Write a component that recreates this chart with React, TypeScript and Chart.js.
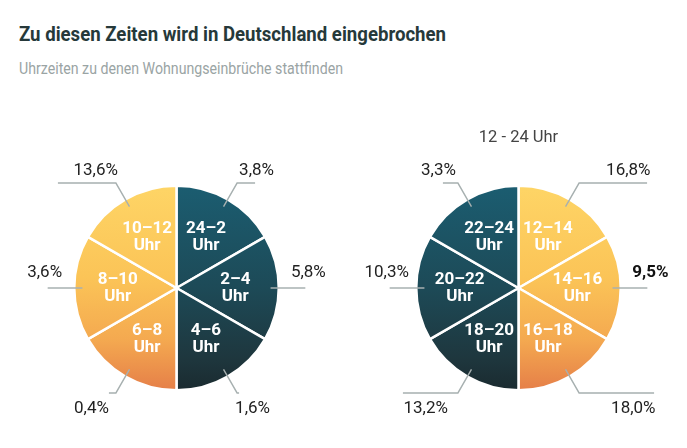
import React, { useEffect, useLayoutEffect, useRef } from 'react';
import { Chart, registerables } from 'chart.js';

Chart.register(...registerables);

// ---------- data ----------
const leftSlots = ['24–2', '2–4', '4–6', '6–8', '8–10', '10–12'];
const leftShares = [3.8, 5.8, 1.6, 0.4, 3.6, 13.6];
const rightSlots = ['12–14', '14–16', '16–18', '18–20', '20–22', '22–24'];
const rightShares = [16.8, 9.5, 18.0, 13.2, 10.3, 3.3];
const slotHours = [2, 2, 2, 2, 2, 2];
const emphasized = ['14–16'];
const rightHeading = '12 - 24 Uhr';
const titleText = 'Zu diesen Zeiten wird in Deutschland eingebrochen';
const subtitleText = 'Uhrzeiten zu denen Wohnungseinbrüche stattfinden';

// ---------- layout / style ----------
const FONT = 'Roboto, "Noto Sans", sans-serif';
type Leader = { tail: number; gap: number };
const leftLeaders: Leader[] = [
  { tail: 18, gap: 2 },
  { tail: 0, gap: 0 },
  { tail: 2, gap: -2 },
  { tail: 7, gap: 7 },
  { tail: 0, gap: 0 },
  { tail: 58, gap: -2 },
];
const rightLeaders: Leader[] = [
  { tail: 68, gap: 27 },
  { tail: 0, gap: 0 },
  { tail: 75, gap: 32 },
  { tail: 55, gap: 10 },
  { tail: 0, gap: 0 },
  { tail: 15, gap: 2 },
];

const isWarm = (slot: string) => {
  const h = parseInt(slot, 10);
  return h >= 6 && h < 18;
};
const fmt = (v: number) => v.toFixed(1).replace('.', ',') + '%';

function makeLabelPlugin(slots: string[], shares: number[], leaders: Leader[], heading?: string) {
  return {
    id: 'sliceLabels',
    afterDatasetsDraw(chart: any) {
      const ctx = chart.ctx as CanvasRenderingContext2D;
      const meta = chart.getDatasetMeta(0);
      ctx.save();
      meta.data.forEach((arc: any, i: number) => {
        const p = arc.getProps(['x', 'y', 'startAngle', 'endAngle', 'outerRadius'], true);
        const r = p.outerRadius;
        const mid = (p.startAngle + p.endAngle) / 2;
        const dx = Math.cos(mid);
        const dy = Math.sin(mid);
        // inner label
        ctx.fillStyle = '#ffffff';
        ctx.font = `700 17px ${FONT}`;
        ctx.textAlign = 'center';
        ctx.textBaseline = 'middle';
        const lx = p.x + dx * r * 0.575;
        const ly = p.y + dy * r * 0.575;
        ctx.fillText(slots[i], lx, ly - 8);
        ctx.fillText('Uhr', lx, ly + 9);
        // leader line
        ctx.strokeStyle = '#a7b0b0';
        ctx.lineWidth = 1.4;
        const x0 = p.x + dx * r * 0.92;
        const y0 = p.y + dy * r * 0.92;
        const side = dx >= 0 ? 1 : -1;
        const bold = emphasized.includes(slots[i]);
        ctx.font = `${bold ? 700 : 400} 17px ${FONT}`;
        ctx.fillStyle = bold ? '#111111' : '#222222';
        ctx.textBaseline = 'middle';
        if (Math.abs(dy) < 0.05) {
          const x1 = p.x + dx * r * 1.26;
          ctx.beginPath();
          ctx.moveTo(x0, y0);
          ctx.lineTo(x1, y0);
          ctx.stroke();
          ctx.textAlign = 'center';
          ctx.fillText(fmt(shares[i]), x1 + side * 3, y0 - 15);
        } else {
          const ex = p.x + dx * r * 1.185;
          const ey = p.y + dy * r * 1.185;
          const L = leaders[i];
          ctx.beginPath();
          ctx.moveTo(x0, y0);
          ctx.lineTo(ex, ey);
          ctx.lineTo(ex + side * L.tail, ey);
          ctx.stroke();
          ctx.textAlign = side > 0 ? 'left' : 'right';
          ctx.fillText(fmt(shares[i]), ex + side * L.gap, ey + (dy < 0 ? -12 : 16));
        }
      });
      if (heading) {
        const a = meta.data[0];
        ctx.font = `400 16.5px ${FONT}`;
        ctx.fillStyle = '#444444';
        ctx.textAlign = 'center';
        ctx.textBaseline = 'middle';
        ctx.fillText(heading, a.x, 138);
      }
      ctx.restore();
    },
  };
}

function PieCanvas(props: {
  slots: string[];
  shares: number[];
  leaders: Leader[];
  left: number;
  padding: { left: number; right: number; top: number; bottom: number };
  heading?: string;
}) {
  const ref = useRef<HTMLCanvasElement>(null);
  useEffect(() => {
    const { slots, shares, leaders, padding, heading } = props;
    const chart = new Chart(ref.current!, {
      type: 'pie',
      data: {
        labels: slots,
        datasets: [
          {
            data: slotHours,
            backgroundColor: (c: any) => {
              const area = c.chart.chartArea;
              if (!area) return '#1d4a58';
              const g = c.chart.ctx.createLinearGradient(0, area.top, 0, area.bottom);
              if (isWarm(slots[c.dataIndex])) {
                g.addColorStop(0, '#fed566');
                g.addColorStop(0.45, '#fbc457');
                g.addColorStop(0.75, '#f4a950');
                g.addColorStop(1, '#e57e48');
              } else {
                g.addColorStop(0, '#1b5d71');
                g.addColorStop(0.5, '#1d4a57');
                g.addColorStop(0.85, '#1e363d');
                g.addColorStop(1, '#1a2a2f');
              }
              return g;
            },
            borderColor: '#ffffff',
            borderWidth: 2.5,
            hoverOffset: 0,
          },
        ],
      },
      options: {
        responsive: false,
        animation: false,
        layout: { padding },
        plugins: { legend: { display: false }, tooltip: { enabled: false } },
      },
      plugins: [makeLabelPlugin(slots, shares, leaders, heading)],
    } as any);
    return () => chart.destroy();
  }, []);
  return (
    <canvas
      ref={ref}
      width={343}
      height={448}
      style={{ position: 'absolute', left: props.left, top: 0, width: 343, height: 448 }}
    />
  );
}

function FitText(props: { text: string; width: number; style: React.CSSProperties }) {
  const ref = useRef<HTMLSpanElement>(null);
  useLayoutEffect(() => {
    const el = ref.current!;
    el.style.transform = 'none';
    const w = el.getBoundingClientRect().width;
    if (w > 0) el.style.transform = `scaleX(${props.width / w})`;
  }, []);
  return (
    <span
      ref={ref}
      style={{ position: 'absolute', whiteSpace: 'nowrap', transformOrigin: 'left top', display: 'inline-block', ...props.style }}
    >
      {props.text}
    </span>
  );
}

export default function App() {
  return (
    <div style={{ position: 'absolute', left: 0, top: 0, width: 687, height: 448, background: '#ffffff', overflow: 'hidden' }}>
      <FitText
        text={titleText}
        width={427}
        style={{ left: 19, top: 24, fontFamily: FONT, fontWeight: 700, fontSize: 21, lineHeight: '21px', color: '#26393a' }}
      />
      <FitText
        text={subtitleText}
        width={324}
        style={{ left: 19, top: 59.5, fontFamily: FONT, fontWeight: 400, fontSize: 17, lineHeight: '17px', color: '#9aa4a4' }}
      />
      <PieCanvas
        slots={leftSlots}
        shares={leftShares}
        leaders={leftLeaders}
        left={0}
        padding={{ left: 73, right: 63, top: 184.5, bottom: 56.5 }}
      />
      <PieCanvas
        slots={rightSlots}
        shares={rightShares}
        leaders={rightLeaders}
        left={344}
        padding={{ left: 71, right: 65, top: 184.5, bottom: 56.5 }}
        heading={rightHeading}
      />
    </div>
  );
}
